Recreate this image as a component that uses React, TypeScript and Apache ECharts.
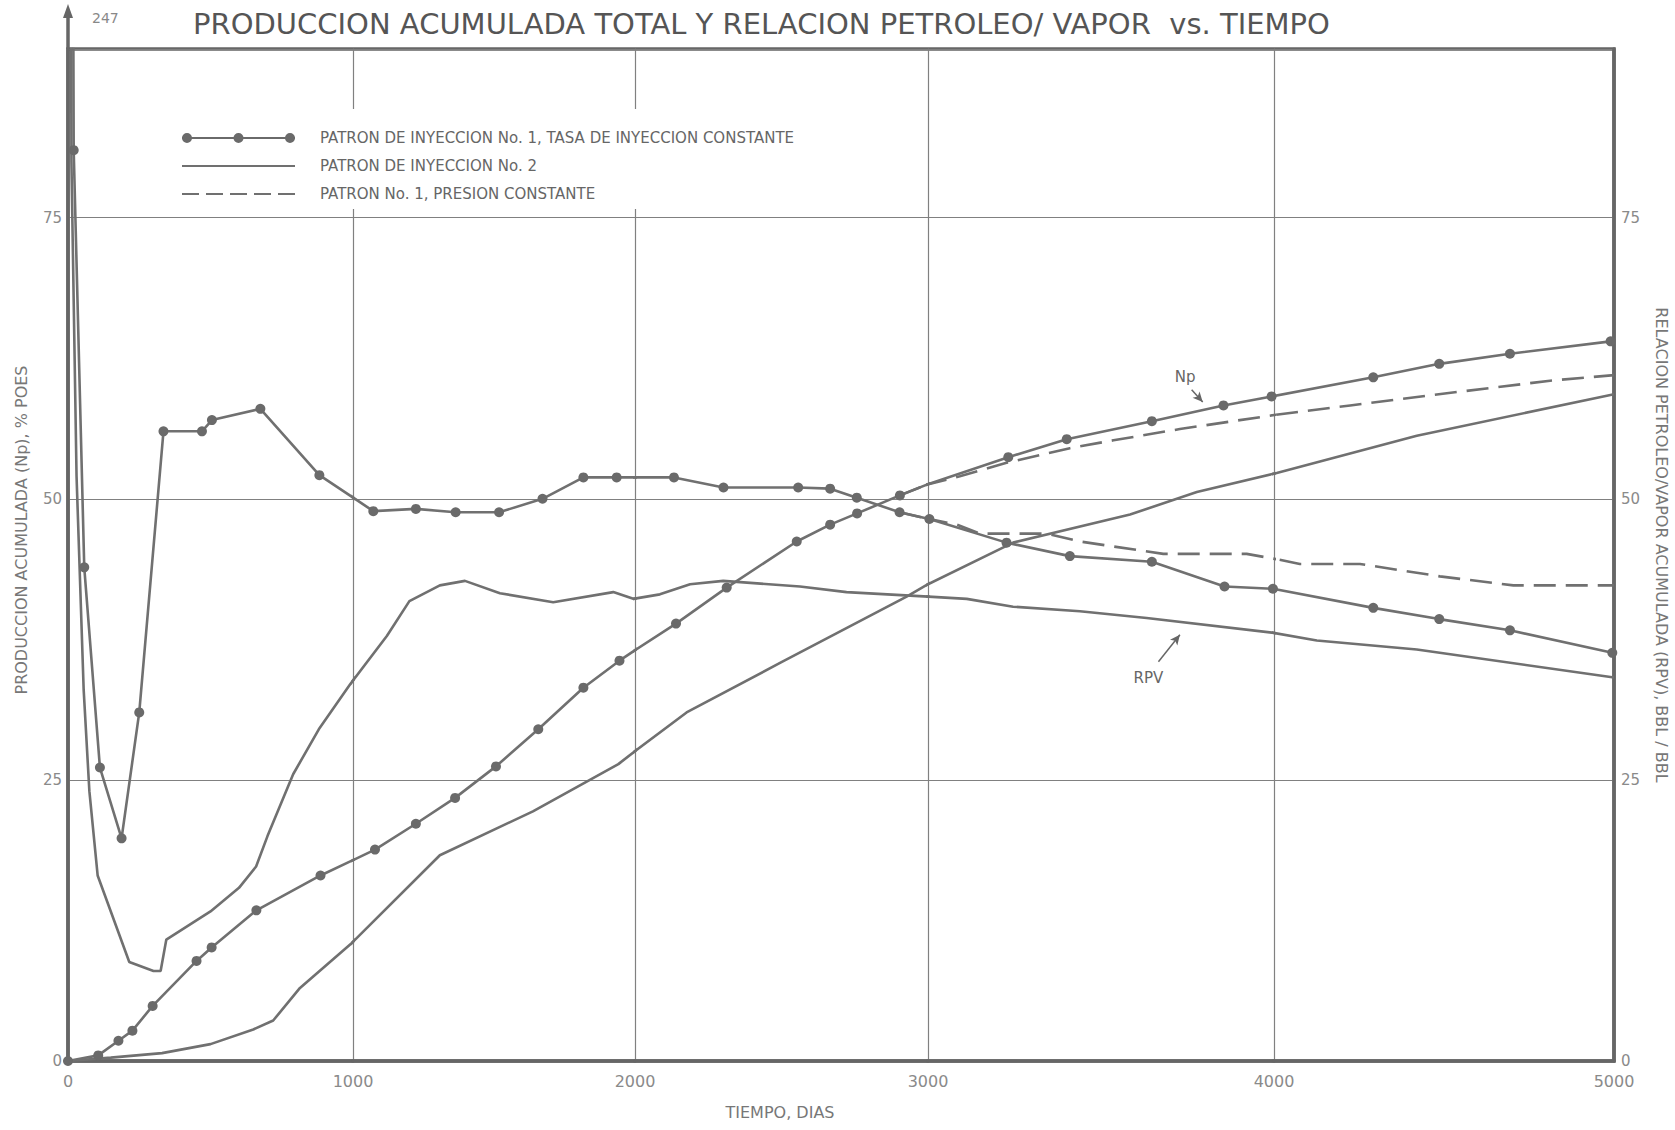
import React, { useEffect, useRef } from "react";
import * as echarts from "echarts";

// ---------------- Data ----------------
const xTickDays = [0, 1000, 2000, 3000, 4000, 5000];
const yMax = 90;
const yInterval = 25;

const legendNames = [
  "PATRON DE INYECCION No. 1, TASA DE INYECCION CONSTANTE",
  "PATRON DE INYECCION No. 2",
  "PATRON No. 1, PRESION CONSTANTE",
];

// Pattern 1, constant injection rate (dotted markers)
const npP1Days = [0, 106, 177, 226, 297, 451, 504, 661, 886, 1078, 1223, 1362, 1507, 1657, 1817, 1945, 2140, 2313, 2552, 2666, 2758, 2904, 3232, 3401, 3647, 3854, 3993, 4292, 4486, 4694, 4990];
const npP1 = [0, 0.5, 1.8, 2.7, 4.9, 8.9, 10.1, 13.4, 16.5, 18.8, 21.1, 23.4, 26.2, 29.5, 33.2, 35.6, 38.9, 42.1, 46.2, 47.7, 48.7, 50.3, 53.7, 55.3, 56.9, 58.3, 59.1, 60.8, 62.0, 62.9, 64.0];
const rpvP1Days = [0, 20, 57, 112, 188, 250, 335, 470, 505, 675, 882, 1072, 1223, 1364, 1518, 1672, 1817, 1935, 2133, 2302, 2557, 2666, 2757, 2903, 3004, 3227, 3410, 3647, 3857, 3997, 4292, 4486, 4694, 4995];
const rpvP1 = [247, 81, 43.9, 26.1, 19.8, 31.0, 56.0, 56.0, 57.0, 58.0, 52.1, 48.9, 49.1, 48.8, 48.8, 50.0, 51.9, 51.9, 51.9, 51.0, 51.0, 50.9, 50.1, 48.8, 48.2, 46.1, 44.9, 44.4, 42.2, 42.0, 40.3, 39.3, 38.3, 36.3];

// Pattern 2 (solid)
const npP2Days = [0, 150, 330, 500, 650, 720, 814, 996, 1308, 1638, 1941, 2176, 2495, 2927, 3246, 3584, 3777, 4008, 4420, 5000];
const npP2 = [0, 0.3, 0.7, 1.5, 2.8, 3.6, 6.5, 10.5, 18.3, 22.2, 26.4, 31.0, 35.4, 41.3, 46.1, 48.6, 50.6, 52.3, 55.6, 59.3];
const rpvP2Days = [0, 12, 30, 55, 75, 104, 215, 300, 325, 345, 500, 600, 660, 700, 790, 880, 990, 1120, 1200, 1308, 1397, 1521, 1710, 1923, 1994, 2085, 2188, 2301, 2563, 2722, 3001, 3112, 3246, 3439, 3632, 3994, 4126, 4420, 5000];
const rpvP2 = [247, 80, 52, 33, 24, 16.5, 8.8, 8.0, 8.0, 10.8, 13.3, 15.4, 17.3, 20.0, 25.5, 29.5, 33.5, 37.8, 40.9, 42.3, 42.7, 41.6, 40.8, 41.7, 41.1, 41.5, 42.4, 42.7, 42.2, 41.7, 41.3, 41.1, 40.4, 40.0, 39.4, 38.1, 37.4, 36.6, 34.1];

// Pattern 1, constant pressure (dashed)
const npDashDays = [2904, 3001, 3092, 3227, 3410, 3536, 3728, 4012, 4224, 4459, 4812, 5000];
const npDash = [50.3, 51.3, 52.0, 53.2, 54.5, 55.2, 56.2, 57.5, 58.3, 59.2, 60.5, 61.0];
const rpvDashDays = [2903, 3004, 3083, 3150, 3343, 3439, 3680, 3921, 4012, 4076, 4253, 4488, 4704, 5000];
const rpvDash = [48.8, 48.2, 47.7, 46.9, 46.9, 46.2, 45.1, 45.1, 44.6, 44.2, 44.2, 43.1, 42.3, 42.3];

// Annotations (data coordinates)
const npNoteText = [3743, 60.8];
const npNoteArrow = [[3762, 59.7], [3794, 58.6]];
const rpvNoteText = [3637, 34.1];
const rpvNoteArrow = [[3666, 35.5], [3728, 37.9]];
const rpvStartLabel = "247";

const titleText = "PRODUCCION ACUMULADA TOTAL Y RELACION PETROLEO/ VAPOR  vs. TIEMPO";
const leftName = "PRODUCCION ACUMULADA (Np), % POES";
const rightName = "RELACION PETROLEO/VAPOR ACUMULADA (RPV), BBL / BBL";
const bottomName = "TIEMPO, DIAS";

// ---------------- Layout / style ----------------
// pixel position of each vertical grid line of the original sheet (uneven spacing)
const COL_PX = [68, 353, 635, 928, 1274, 1614];
const PLOT_TOP = 49;
const PLOT_BOTTOM = 1061;
const FRAME = "#666666";
const GRIDC = "#808080";
const LINEC = "#707070";
const MARKC = "#6a6a6a";
const FONT = "'DejaVu Sans', 'Liberation Sans', sans-serif";
const TITLE_FONT = "'DejaVu Sans', 'Liberation Sans', sans-serif";

const DOT_ICON =
  "path://M0,4 L113,4 L113,6 L0,6 Z M0,5 A5,5 0 1,1 10,5 A5,5 0 1,1 0,5 Z M51.5,5 A5,5 0 1,1 61.5,5 A5,5 0 1,1 51.5,5 Z M103,5 A5,5 0 1,1 113,5 A5,5 0 1,1 103,5 Z";
const SOLID_ICON = "path://M0,0 L113,0 L113,2.2 L0,2.2 Z";
const DASH_ICON =
  "path://M0,0 h17 v2.2 h-17 Z M24,0 h17 v2.2 h-17 Z M48,0 h17 v2.2 h-17 Z M72,0 h17 v2.2 h-17 Z M96,0 h17 v2.2 h-17 Z";

function zip(xs: number[], ys: number[]) {
  return xs.map((x, i) => [x, ys[i]]);
}

function buildOption() {
  const nSeg = xTickDays.length - 1;
  const grids: any[] = [];
  const xAxes: any[] = [];
  const yAxes: any[] = [];
  const series: any[] = [];

  const defs = [
    { name: legendNames[2], data: zip(npDashDays, npDash), kind: "dash", note: null },
    { name: legendNames[2], data: zip(rpvDashDays, rpvDash), kind: "dash", note: null },
    { name: legendNames[1], data: zip(npP2Days, npP2), kind: "solid", note: null },
    { name: legendNames[1], data: zip(rpvP2Days, rpvP2), kind: "solid", note: "rpv" },
    { name: legendNames[0], data: zip(npP1Days, npP1), kind: "dot", note: "np" },
    { name: legendNames[0], data: zip(rpvP1Days, rpvP1), kind: "dot", note: null },
  ];

  const noteLine = (pts: number[][]) => ({
    silent: true,
    symbol: ["none", "arrow"],
    symbolSize: [7, 10],
    lineStyle: { color: "#666", width: 1.5, type: "solid" },
    label: { show: false },
    data: [[{ coord: pts[0] }, { coord: pts[1] }]],
  });
  const noteText = (txt: string, pt: number[]) => ({
    silent: true,
    symbol: "circle",
    symbolSize: 0,
    label: { show: true, position: "inside", formatter: txt, fontSize: 15, color: "#666", fontFamily: FONT },
    data: [{ coord: pt }],
  });

  for (let k = 0; k < nSeg; k++) {
    grids.push({
      left: COL_PX[k],
      top: PLOT_TOP,
      width: COL_PX[k + 1] - COL_PX[k],
      height: PLOT_BOTTOM - PLOT_TOP,
      show: false,
      containLabel: false,
    });
    xAxes.push({
      type: "value",
      gridIndex: k,
      min: xTickDays[k],
      max: xTickDays[k + 1],
      interval: xTickDays[k + 1] - xTickDays[k],
      axisLine: { show: true, onZero: false, lineStyle: { color: FRAME, width: 3.5 } },
      axisTick: { show: false },
      splitLine: { show: false },
      axisLabel: {
        show: true,
        showMinLabel: true,
        showMaxLabel: k === nSeg - 1,
        margin: 12,
        fontSize: 16,
        color: "#8a8a8a",
        fontFamily: FONT,
        formatter: (v: number) => String(v),
      },
    });
    yAxes.push({
      type: "value",
      gridIndex: k,
      min: 0,
      max: yMax,
      interval: yInterval,
      axisLine: {
        show: true,
        onZero: false,
        lineStyle: { color: k === 0 ? FRAME : GRIDC, width: k === 0 ? 3.5 : 1.2 },
      },
      axisTick: { show: false },
      axisLabel: {
        show: k === 0,
        showMaxLabel: false,
        margin: 6,
        fontSize: 15,
        color: "#8a8a8a",
        fontFamily: FONT,
      },
      splitLine: { show: true, lineStyle: { color: GRIDC, width: 1.1 } },
    });

    defs.forEach((d) => {
      const s: any = {
        type: "line",
        name: d.name,
        xAxisIndex: k,
        yAxisIndex: k,
        data: d.data,
        clip: true,
        silent: true,
        symbol: d.kind === "dot" ? "circle" : "none",
        symbolSize: 10,
        showSymbol: d.kind === "dot",
        lineStyle: {
          color: LINEC,
          width: 2.6,
          type: d.kind === "dash" ? [22, 10] : "solid",
        },
        itemStyle: { color: MARKC, borderWidth: 0 },
        emphasis: { disabled: true },
        z: d.kind === "dot" ? 4 : 3,
      };
      const inSeg = (x: number) => x >= xTickDays[k] && x <= xTickDays[k + 1];
      if (d.note === "np" && inSeg(npNoteText[0])) {
        s.markLine = noteLine(npNoteArrow);
        s.markPoint = noteText("Np", npNoteText);
      }
      if (d.note === "rpv" && inSeg(rpvNoteText[0])) {
        s.markLine = noteLine(rpvNoteArrow);
        s.markPoint = noteText("RPV", rpvNoteText);
      }
      series.push(s);
    });
  }

  // right-hand axis (same scale) on the last segment
  yAxes.push({
    type: "value",
    gridIndex: nSeg - 1,
    position: "right",
    min: 0,
    max: yMax,
    interval: yInterval,
    axisLine: { show: true, onZero: false, lineStyle: { color: FRAME, width: 3.5 } },
    axisTick: { show: false },
    splitLine: { show: false },
    axisLabel: { show: true, showMaxLabel: false, margin: 7, fontSize: 15, color: "#8a8a8a", fontFamily: FONT },
  });

  // frame grid (outer border)
  grids.push({
    left: COL_PX[0],
    top: PLOT_TOP,
    width: COL_PX[COL_PX.length - 1] - COL_PX[0],
    height: PLOT_BOTTOM - PLOT_TOP,
    show: true,
    borderColor: FRAME,
    borderWidth: 3.5,
    backgroundColor: "rgba(0,0,0,0)",
  });
  xAxes.push({ type: "value", gridIndex: nSeg, min: 0, max: 5000, show: false });
  yAxes.push({ type: "value", gridIndex: nSeg, min: 0, max: yMax, show: false });

  const ax = COL_PX[0];
  return {
    animation: false,
    backgroundColor: "#ffffff",
    title: {
      text: titleText,
      left: 188,
      top: 4,
      textStyle: { fontSize: 29, fontWeight: "normal", color: "#555", fontFamily: TITLE_FONT },
    },
    legend: {
      orient: "vertical",
      left: 150,
      top: 109,
      padding: [21, 10, 7, 32],
      backgroundColor: "#ffffff",
      itemWidth: 113,
      itemHeight: 10,
      itemGap: 12,
      selectedMode: false,
      data: [
        { name: legendNames[0], icon: DOT_ICON, itemStyle: { color: MARKC, borderWidth: 0 } },
        { name: legendNames[1], icon: SOLID_ICON, itemStyle: { color: LINEC, borderWidth: 0 } },
        { name: legendNames[2], icon: DASH_ICON, itemStyle: { color: LINEC, borderWidth: 0 } },
      ],
      textStyle: { fontSize: 15, color: "#666", fontFamily: FONT, lineHeight: 16, padding: [0, 0, 0, 20] },
    },
    grid: grids,
    xAxis: xAxes,
    yAxis: yAxes,
    series,
    graphic: [
      { type: "line", shape: { x1: ax, y1: PLOT_TOP, x2: ax, y2: 14 }, style: { stroke: FRAME, lineWidth: 3.5 }, z: 10 },
      { type: "polygon", shape: { points: [[ax, 4], [ax - 5, 18], [ax + 5, 18]] }, style: { fill: FRAME }, z: 10 },
      {
        type: "text",
        x: 92,
        y: 18,
        style: { text: rpvStartLabel, fontSize: 14, fill: "#888", fontFamily: FONT, verticalAlign: "middle" },
        z: 10,
      },
      {
        type: "text",
        x: 21,
        y: 530,
        rotation: Math.PI / 2,
        style: { text: leftName, fontSize: 16, fill: "#777", fontFamily: FONT, align: "center", verticalAlign: "middle" },
      },
      {
        type: "text",
        x: 1661,
        y: 545,
        rotation: -Math.PI / 2,
        style: { text: rightName, fontSize: 16, fill: "#777", fontFamily: FONT, align: "center", verticalAlign: "middle" },
      },
      {
        type: "text",
        x: 780,
        y: 1112,
        style: { text: bottomName, fontSize: 16, fill: "#777", fontFamily: FONT, align: "center", verticalAlign: "middle" },
      },
    ],
  };
}

export default function App() {
  const ref = useRef<HTMLDivElement | null>(null);
  useEffect(() => {
    if (!ref.current) return;
    const chart = echarts.init(ref.current, undefined, { renderer: "svg" });
    chart.setOption(buildOption() as any);
    return () => chart.dispose();
  }, []);
  return (
    <div
      ref={ref}
      style={{ position: "absolute", left: 0, top: 0, width: 1675, height: 1130, background: "#fff" }}
    />
  );
}
